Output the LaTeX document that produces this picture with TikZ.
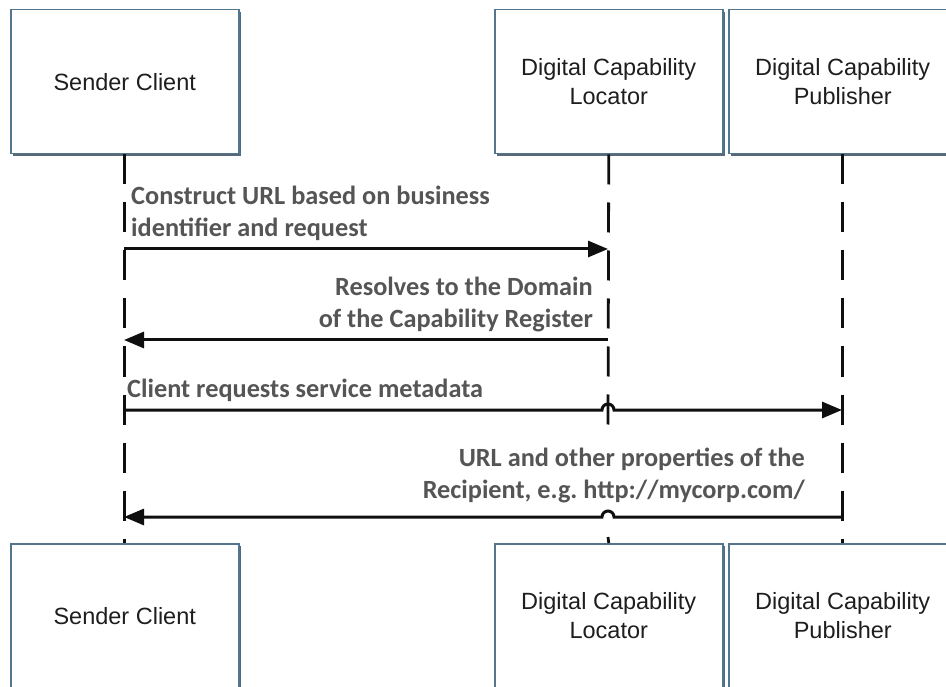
\documentclass[tikz,border=0pt]{standalone}
\usepackage{fontspec}
\setmainfont{Liberation Sans}
\newfontfamily\lblfont{Carlito}
\usetikzlibrary{arrows.meta,calc,shadows}
\definecolor{boxline}{RGB}{84,118,140}
\definecolor{boxshadow}{RGB}{60,78,95}
\definecolor{boxtext}{RGB}{30,30,30}
\definecolor{lbltext}{RGB}{85,85,85}
\definecolor{lineclr}{RGB}{15,15,15}
\begin{document}
\begin{tikzpicture}[x=1pt,y=-1pt,
  actor/.style={draw=boxline, line width=1.5pt, fill=white,
    minimum width=228pt, minimum height=144pt, inner sep=0pt,
    align=center, anchor=north west, text=boxtext,
    font=\fontsize{23.5}{29}\selectfont,
    drop shadow={shadow xshift=1.8pt, shadow yshift=-1.8pt, fill=boxshadow, opacity=0.85}},
  life/.style={draw=lineclr, line width=2.8pt, dash pattern=on 30pt off 18pt},
  msg/.style={draw=lineclr, line width=3pt, -{Triangle[length=20pt,width=16pt]}},
  lbl/.style={text=lbltext, inner sep=0pt, font=\lblfont\bfseries\fontsize{26.3}{32}\selectfont}
]
\clip (0,0) rectangle (946,687);
\fill[white] (0,0) rectangle (946,687);

% top actors
\node[actor] (sct) at (10,9) {Sender Client};
\node[actor] (lct) at (494,9) {Digital Capability\\Locator};
\node[actor] (pbt) at (728,9) {Digital Capability\\Publisher};

% bottom actors
\node[actor] (scb) at (10,543) {Sender Client};
\node[actor] (lcb) at (494,543) {Digital Capability\\Locator};
\node[actor] (pbb) at (728,543) {Digital Capability\\Publisher};

% message points
\coordinate (a1) at (124,249);
\coordinate (b1) at (608,249);
\coordinate (a2) at (124,340);
\coordinate (b2) at (608,340);
\coordinate (a3) at (124,410);
\coordinate (b3) at (608,410);
\coordinate (c3) at (842,410);
\coordinate (a4) at (124,517);
\coordinate (b4) at (608,517);
\coordinate (c4) at (842,517);
\coordinate (lgap1) at (608,430);
\coordinate (lgap2) at (608,537);

% lifelines
\draw[life] (sct.south) -- (scb.north);
\draw[life] (lct.south) -- (lgap1);
\draw[life] (lgap2) -- (lcb.north);
\draw[life] (pbt.south) -- (pbb.north);

% messages
\draw[msg] (a1) -- (b1);
\draw[msg] (b2) -- (a2);
\draw[msg] (a3) -- ($(b3)+(-6,0)$) arc[start angle=180, end angle=0, radius=6pt] -- (c3);
\draw[msg] (c4) -- ($(b4)+(6,0)$) arc[start angle=0, end angle=180, radius=6pt] -- (a4);

% labels
\node[lbl, align=left, anchor=south west] (t1) at ([xshift=7pt,yshift=8pt]a1)
  {Construct URL based on business\\identifier and request};
\node[lbl, align=right, anchor=south east] (t2) at ([xshift=-15pt,yshift=8pt]b2)
  {Resolves to the Domain\\of the Capability Register};
\node[lbl, align=left, anchor=south west] (t3) at ([xshift=3pt,yshift=8pt]a3)
  {Client requests service metadata};
\node[lbl, align=right, anchor=south east] (t4) at ([xshift=-37pt,yshift=14pt]c4)
  {URL and other properties of the\\Recipient, e.g.\ http://mycorp.com/};
\end{tikzpicture}
\end{document}
